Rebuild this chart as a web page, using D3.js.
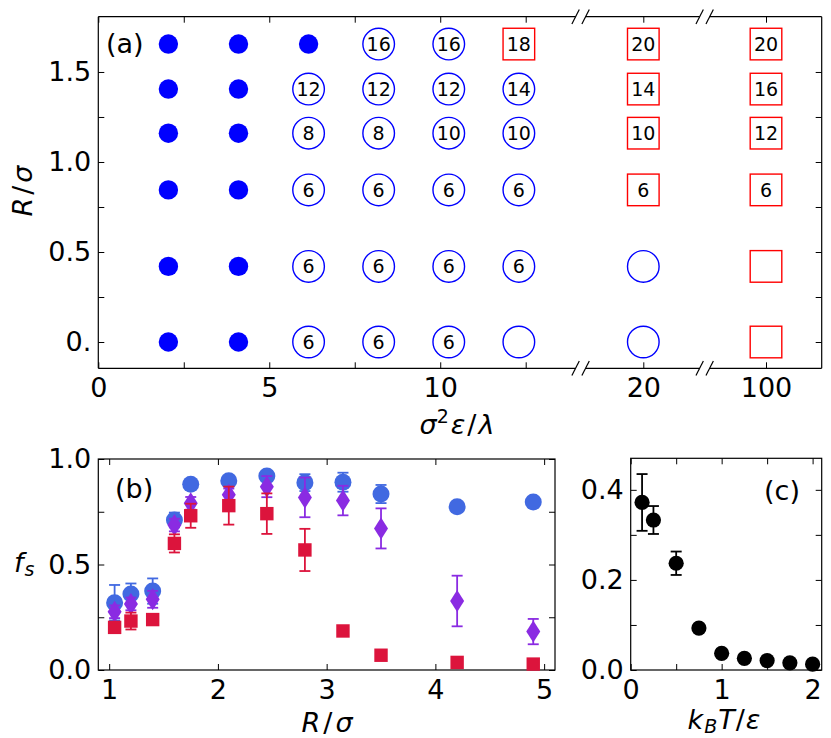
<!DOCTYPE html>
<html>
<head>
<meta charset="utf-8">
<script src="https://cdn.jsdelivr.net/npm/d3@7"></script>
<style>
  body { margin: 0; background: #fff; }
  svg text { font-family: "DejaVu Sans", sans-serif; }
</style>
</head>
<body>
<svg id="fig" width="831" height="738"></svg>
<script>
// ---- panel (a): phase diagram ----
const sigmaCols = [2.05, 4.1, 6.15, 8.2, 10.25, 12.3, 20, 100];
const radiusRows = [1.655, 1.405, 1.16, 0.845, 0.42, 0];
// f = filled dot, o = open circle, s = open square, digits = label
const phaseRows = [
  ["f", "f", "f", "o16", "o16", "s18", "s20", "s20"],
  ["f", "f", "o12", "o12", "o12", "o14", "s14", "s16"],
  ["f", "f", "o8", "o8", "o10", "o10", "s10", "s12"],
  ["f", "f", "o6", "o6", "o6", "o6", "s6", "s6"],
  ["f", "f", "o6", "o6", "o6", "o6", "o", "s"],
  ["f", "f", "o6", "o6", "o6", "o", "o", "s"]
];
const aXTicks = [0, 2.5, 5, 7.5, 10, 12.5, 20, 100];
const aXLabels = ["0", "", "5", "", "10", "", "20", "100"];
const aYTicks = [0, 0.25, 0.5, 0.75, 1, 1.25, 1.5];
const aYLabels = ["0.", "", "0.5", "", "1.0", "", "1.5"];
const aBreaks = [16, 60];

// ---- panel (b): f_s vs R ----
const bR = [1.05, 1.2, 1.4, 1.6, 1.75, 2.1, 2.45, 2.8, 3.15, 3.5, 4.2, 4.9];
const bBlue = [0.319, 0.36, 0.374, 0.711, 0.88, 0.897, 0.919, 0.888, 0.89, 0.834, 0.774, 0.796];
const bBlueErr = [0.084, 0.05, 0.06, 0.035, 0.015, 0.015, 0.02, 0.04, 0.045, 0.043, 0, 0];
const bPurple = [0.276, 0.313, 0.335, 0.687, 0.79, 0.83, 0.869, 0.818, 0.803, 0.671, 0.327, 0.182];
const bPurpleErr = [0.03, 0.03, 0.04, 0.03, 0.03, 0.03, 0.05, 0.094, 0.07, 0.095, 0.12, 0.06];
const bRed = [0.202, 0.232, 0.239, 0.6, 0.731, 0.779, 0.741, 0.569, 0.185, 0.07, 0.036, 0.028];
const bRedErr = [0.01, 0.04, 0.01, 0.043, 0.057, 0.09, 0.096, 0.1, 0, 0, 0, 0];
const bXTicks = [1, 2, 3, 4, 5];
const bYTicks = [0, 0.25, 0.5, 0.75, 1];
const bYLabels = ["0.0", "", "0.5", "", "1.0"];

// ---- panel (c): f_s vs T ----
const cT = [0.125, 0.25, 0.5, 0.75, 1, 1.25, 1.5, 1.75, 2];
const cF = [0.372, 0.333, 0.237, 0.093, 0.037, 0.026, 0.021, 0.016, 0.013];
const cErr = [0.063, 0.031, 0.026, 0, 0, 0, 0, 0, 0];
const cXTicks = [0, 0.5, 1, 1.5, 2];
const cXLabels = ["0", "", "1", "", "2"];
const cYTicks = [0, 0.1, 0.2, 0.3, 0.4];
const cYLabels = ["0.0", "", "0.2", "", "0.4"];

const svg = d3.select("#fig");
const FS = 27;

// inward ticks on all four sides, labels only bottom/left
function drawTicks(g, x, y, w, h, xt, xl, yt, yl) {
  const style = sel => {
    sel.select(".domain").remove();
    sel.selectAll("line").attr("stroke", "#000").attr("stroke-width", 1);
    sel.selectAll("text").attr("font-size", FS).attr("fill", "#000")
      .attr("font-family", "DejaVu Sans");
  };
  g.append("g").attr("transform", `translate(0,${h})`)
    .call(d3.axisBottom(x).tickValues(xt).tickSize(-6).tickPadding(10)
      .tickFormat((d, i) => xl[i])).call(style);
  g.append("g")
    .call(d3.axisTop(x).tickValues(xt).tickSize(-6).tickFormat("")).call(style);
  g.append("g")
    .call(d3.axisLeft(y).tickValues(yt).tickSize(-6).tickPadding(7)
      .tickFormat((d, i) => yl[i])).call(style);
  g.append("g").attr("transform", `translate(${w},0)`)
    .call(d3.axisRight(y).tickValues(yt).tickSize(-6).tickFormat("")).call(style);
}

function errBars(g, x, y, xs, ys, es, color) {
  xs.forEach((xv, i) => {
    const e = es[i];
    if (!e) return;
    const px = x(xv), y0 = y(ys[i] - e), y1 = y(ys[i] + e);
    const p = g.append("g").attr("stroke", color).attr("stroke-width", 1.8);
    p.append("line").attr("x1", px).attr("x2", px).attr("y1", y0).attr("y2", y1);
    p.append("line").attr("x1", px - 5.5).attr("x2", px + 5.5).attr("y1", y0).attr("y2", y0);
    p.append("line").attr("x1", px - 5.5).attr("x2", px + 5.5).attr("y1", y1).attr("y2", y1);
  });
}

// ================= panel (a) =================
const aL = 98.3, aT = 16.7, aW = 723.4, aH = 351.6;
const xA = d3.scaleLinear().domain([0, 12.5, 20, 100, 136.3]).range([0, 427.4, 545, 667.7, aW]);
const yA = d3.scaleLinear().domain([-0.146, 1.807]).range([aH, 0]);
const ga = svg.append("g").attr("transform", `translate(${aL},${aT})`);

drawTicks(ga, xA, yA, aW, aH, aXTicks, aXLabels, aYTicks, aYLabels);

// spines with gaps at the axis breaks
const bx = aBreaks.map(xA);
const segs = [[0, bx[0] - 5], [bx[0] + 5, bx[1] - 5], [bx[1] + 5, aW]];
[0, aH].forEach(yy => {
  segs.forEach(s => ga.append("line").attr("x1", s[0]).attr("x2", s[1])
    .attr("y1", yy).attr("y2", yy).attr("stroke", "#000").attr("stroke-width", 1.2));
  bx.forEach(cx => [-5, 5].forEach(d => ga.append("line")
    .attr("x1", cx + d - 3.7).attr("y1", yy + 7.2)
    .attr("x2", cx + d + 3.7).attr("y2", yy - 7.2)
    .attr("stroke", "#000").attr("stroke-width", 1.2)));
});
[0, aW].forEach(xx => ga.append("line").attr("x1", xx).attr("x2", xx)
  .attr("y1", 0).attr("y2", aH).attr("stroke", "#000").attr("stroke-width", 1.2));

const cells = [];
phaseRows.forEach((row, r) => row.forEach((code, c) => {
  cells.push({ x: sigmaCols[c], y: radiusRows[r], kind: code[0], label: code.slice(1) });
}));

ga.selectAll(".dot").data(cells.filter(d => d.kind === "f")).enter()
  .append("circle").attr("cx", d => xA(d.x)).attr("cy", d => yA(d.y))
  .attr("r", 9.7).attr("fill", "#0000ff");
ga.selectAll(".ring").data(cells.filter(d => d.kind === "o")).enter()
  .append("circle").attr("cx", d => xA(d.x)).attr("cy", d => yA(d.y))
  .attr("r", 15.8).attr("fill", "none").attr("stroke", "#0000ff").attr("stroke-width", 1.4);
ga.selectAll(".box").data(cells.filter(d => d.kind === "s")).enter()
  .append("rect").attr("x", d => xA(d.x) - 15.8).attr("y", d => yA(d.y) - 15.8)
  .attr("width", 31.6).attr("height", 31.6)
  .attr("fill", "none").attr("stroke", "#ff0000").attr("stroke-width", 1.4);
ga.selectAll(".lab").data(cells.filter(d => d.label)).enter()
  .append("text").attr("x", d => xA(d.x)).attr("y", d => yA(d.y))
  .attr("dy", "0.36em").attr("text-anchor", "middle")
  .attr("font-size", 19).text(d => d.label);

svg.append("text").attr("x", 106).attr("y", 53).attr("font-size", FS).text("(a)");

// axis labels (a)
const xla = svg.append("text").attr("x", 457).attr("y", 434).attr("font-size", FS)
  .attr("text-anchor", "middle");
xla.append("tspan").attr("font-style", "italic").text("σ");
xla.append("tspan").attr("font-size", 19).attr("dy", -11).text("2");
xla.append("tspan").attr("font-style", "italic").attr("dy", 11).attr("dx", 2).text("ε");
xla.append("tspan").attr("dx", 2).text("/");
xla.append("tspan").attr("font-style", "italic").attr("dx", 2).text("λ");

const yla = svg.append("text").attr("transform", "translate(32,191) rotate(-90)")
  .attr("font-size", FS).attr("text-anchor", "middle");
yla.append("tspan").attr("font-style", "italic").text("R");
yla.append("tspan").attr("dx", 3).text("/");
yla.append("tspan").attr("font-style", "italic").attr("dx", 3).text("σ");

// ================= panel (b) =================
const bL = 98.3, bT = 459, bW = 456.7, bH = 211;
const xB = d3.scaleLinear().domain([0.9, 5.1]).range([0, bW]);
const yB = d3.scaleLinear().domain([0, 1]).range([bH, 0]);
const gb = svg.append("g").attr("transform", `translate(${bL},${bT})`);
drawTicks(gb, xB, yB, bW, bH, bXTicks, bXTicks.map(String), bYTicks, bYLabels);
gb.append("rect").attr("width", bW).attr("height", bH).attr("fill", "none")
  .attr("stroke", "#000").attr("stroke-width", 1.2);

const blue = "#4169e1", purple = "#8a2be2", red = "#dc143c";
const thinDiamond = "M0,-11L7,0L0,11L-7,0Z";
errBars(gb, xB, yB, bR, bBlue, bBlueErr, blue);
gb.selectAll(".bc").data(bR).enter().append("circle")
  .attr("cx", d => xB(d)).attr("cy", (d, i) => yB(bBlue[i])).attr("r", 8.5).attr("fill", blue);
errBars(gb, xB, yB, bR, bPurple, bPurpleErr, purple);
gb.selectAll(".pd").data(bR).enter().append("path")
  .attr("transform", (d, i) => `translate(${xB(d)},${yB(bPurple[i])})`)
  .attr("d", thinDiamond).attr("fill", purple);
errBars(gb, xB, yB, bR, bRed, bRedErr, red);
gb.selectAll(".rs").data(bR).enter().append("path")
  .attr("transform", (d, i) => `translate(${xB(d)},${yB(bRed[i])})`)
  .attr("d", d3.symbol(d3.symbolSquare, 180)).attr("fill", red);

svg.append("text").attr("x", 115).attr("y", 498).attr("font-size", FS).text("(b)");

const xlb = svg.append("text").attr("x", 327).attr("y", 732).attr("font-size", FS)
  .attr("text-anchor", "middle");
xlb.append("tspan").attr("font-style", "italic").text("R");
xlb.append("tspan").attr("dx", 3).text("/");
xlb.append("tspan").attr("font-style", "italic").attr("dx", 3).text("σ");

const ylb = svg.append("text").attr("x", 14).attr("y", 572).attr("font-size", FS);
ylb.append("tspan").attr("font-style", "italic").text("f");
ylb.append("tspan").attr("font-style", "italic").attr("font-size", 19).attr("dy", 4).attr("dx", 1).text("s");

// ================= panel (c) =================
const cL = 630.7, cTop = 458.3, cW = 191, cH = 211.7;
const xC = d3.scaleLinear().domain([0, 2.1]).range([0, cW]);
const yC = d3.scaleLinear().domain([0, 0.47]).range([cH, 0]);
const gc = svg.append("g").attr("transform", `translate(${cL},${cTop})`);
drawTicks(gc, xC, yC, cW, cH, cXTicks, cXLabels, cYTicks, cYLabels);
gc.append("rect").attr("width", cW).attr("height", cH).attr("fill", "none")
  .attr("stroke", "#000").attr("stroke-width", 1.2);
errBars(gc, xC, yC, cT, cF, cErr, "#000");
gc.selectAll(".kc").data(cT).enter().append("circle")
  .attr("cx", d => xC(d)).attr("cy", (d, i) => yC(cF[i])).attr("r", 7.6).attr("fill", "#000");

svg.append("text").attr("x", 764).attr("y", 500).attr("font-size", FS).text("(c)");

const xlc = svg.append("text").attr("x", 724).attr("y", 729).attr("font-size", FS)
  .attr("text-anchor", "middle");
xlc.append("tspan").attr("font-style", "italic").text("k");
xlc.append("tspan").attr("font-style", "italic").attr("font-size", 19).attr("dy", 4).attr("dx", 1).text("B");
xlc.append("tspan").attr("font-style", "italic").attr("dy", -4).attr("dx", 1).text("T");
xlc.append("tspan").attr("dx", 1).text("/");
xlc.append("tspan").attr("font-style", "italic").attr("dx", 1).text("ε");
</script>
</body>
</html>
